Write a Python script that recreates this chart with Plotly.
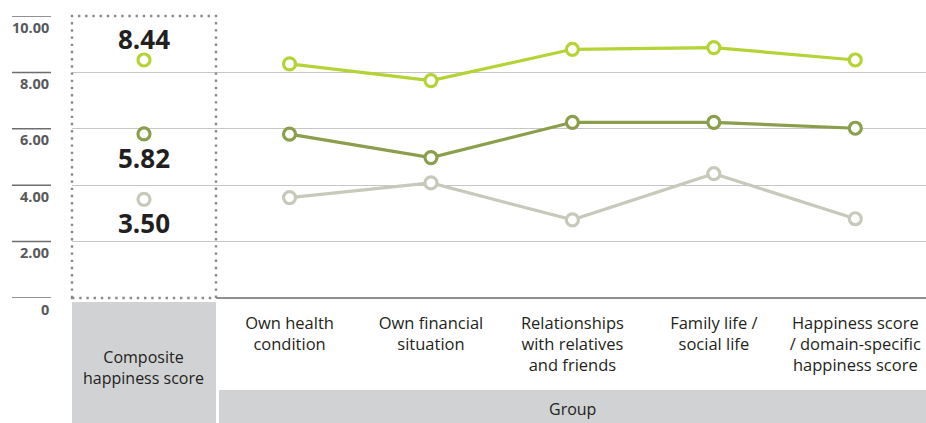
import plotly.graph_objects as go

# ---- data ----
categories = [
    "Own health<br>condition",
    "Own financial<br>situation",
    "Relationships<br>with relatives<br>and friends",
    "Family life /<br>social life",
    "Happiness score<br>/ domain-specific<br>happiness score",
]
composite_label = "Composite<br>happiness score"
group_label = "Group"
series_high = [8.30, 7.71, 8.82, 8.88, 8.44]
series_mid = [5.81, 4.98, 6.23, 6.23, 6.02]
series_low = [3.56, 4.08, 2.77, 4.41, 2.81]
composite_values = [8.44, 5.82, 3.50]
composite_text = ["8.44", "5.82", "3.50"]
composite_text_side = [1, -1, -1]  # 1 = above the point, -1 = below
y_ticks = [0, 2, 4, 6, 8, 10]
y_tick_labels = ["0", "2.00", "4.00", "6.00", "8.00", "10.00"]

colors = ["#b4d335", "#8a9e4b", "#c8c9bb"]
FONT = "Open Sans"

fig = go.Figure()

for vals, col in zip([series_high, series_mid, series_low], colors):
    fig.add_trace(go.Scatter(
        x=categories, y=vals, xaxis="x2", yaxis="y",
        mode="lines+markers",
        line=dict(color=col, width=3.2),
        marker=dict(size=12, color="white", line=dict(color=col, width=3.2)),
        hoverinfo="skip", showlegend=False, cliponaxis=False,
    ))

fig.add_trace(go.Scatter(
    x=[composite_label] * len(composite_values), y=composite_values,
    xaxis="x", yaxis="y2",
    mode="markers",
    marker=dict(size=12, color="white", line=dict(color=colors, width=3.2)),
    hoverinfo="skip", showlegend=False, cliponaxis=False,
))

for v, t, side in zip(composite_values, composite_text, composite_text_side):
    fig.add_annotation(xref="x", yref="y2", x=composite_label, y=v, text=t,
                       showarrow=False, yanchor="middle",
                       yshift=21 if side > 0 else -24,
                       font=dict(family=FONT, size=26, color="#231f20", weight="bold"))

grid_col = "#c6c6c6"
fig.update_layout(
    width=926, height=423,
    margin=dict(l=72, r=0, t=16, b=125),
    paper_bgcolor="white", plot_bgcolor="white",
    font=dict(family=FONT, color="#231f20"),
    hovermode=False,
    xaxis=dict(domain=[0, 0.1686], type="category", range=[-0.5, 0.5],
               showticklabels=False, showgrid=False, zeroline=False, showline=False,
               fixedrange=True),
    xaxis2=dict(domain=[0.1686, 1], type="category", range=[-0.52, 4.5],
                anchor="y", showgrid=False, zeroline=False, showline=False,
                ticks="", ticklabelstandoff=13,
                tickfont=dict(family=FONT, size=16.5, color="#231f20")),
    yaxis=dict(domain=[0, 1], range=[0, 10], anchor="x2",
               tickvals=y_ticks, showticklabels=False, showgrid=True,
               gridcolor=grid_col, gridwidth=1.3,
               zeroline=True, zerolinecolor="#8f8f8f", zerolinewidth=1.6,
               showline=False),
    yaxis2=dict(domain=[0, 1], range=[0, 10], anchor="x",
                tickvals=y_ticks[1:-1], showticklabels=False, showgrid=True,
                gridcolor=grid_col, gridwidth=1.3, zeroline=False, showline=False),
)

# y-axis labels with short rules on the left
for v, lab in zip(y_ticks, y_tick_labels):
    fig.add_shape(type="line", xref="paper", yref="y", x0=-60 / 854, x1=-21 / 854,
                  y0=v, y1=v, line=dict(color="#6d6e71", width=1.5))
    fig.add_annotation(xref="paper", yref="y", x=-21 / 854, y=v, xanchor="right",
                       yanchor="middle", yshift=-11, showarrow=False, text=lab,
                       font=dict(family=FONT, size=14.5, color="#58595b", weight="bold"))

# grey label boxes
fig.add_shape(type="rect", xref="x domain", yref="paper", x0=0, x1=1,
              y0=-0.5, y1=-0.0142, fillcolor="#d1d2d4", line=dict(width=0), layer="below")
fig.add_shape(type="rect", xref="paper", yref="paper", x0=147 / 854, x1=1.02,
              y0=-0.5, y1=-0.3262, fillcolor="#d1d2d4", line=dict(width=0), layer="below")

# dotted frame around composite column
fig.add_shape(type="rect", xref="x domain", yref="paper", x0=0, x1=1, y0=0, y1=1,
              line=dict(color="#8a8a8a", width=2.4, dash="2.4px,4.8px"),
              fillcolor="rgba(0,0,0,0)")

fig.add_annotation(xref="x", yref="paper", x=composite_label, y=-0.248, showarrow=False,
                   text=composite_label, yanchor="middle",
                   font=dict(family=FONT, size=16, color="#231f20"))
fig.add_annotation(xref="paper", yref="paper", x=0.586, y=-0.3936, showarrow=False,
                   text=group_label, yanchor="middle",
                   font=dict(family=FONT, size=16, color="#231f20"))

# remove the default page margin so the 926x423 figure fills the window exactly
fig.write_html(
    "out.html",
    config={"displayModeBar": False, "staticPlot": True},
    post_script="document.body.style.margin='0';document.body.style.overflow='hidden';",
)
